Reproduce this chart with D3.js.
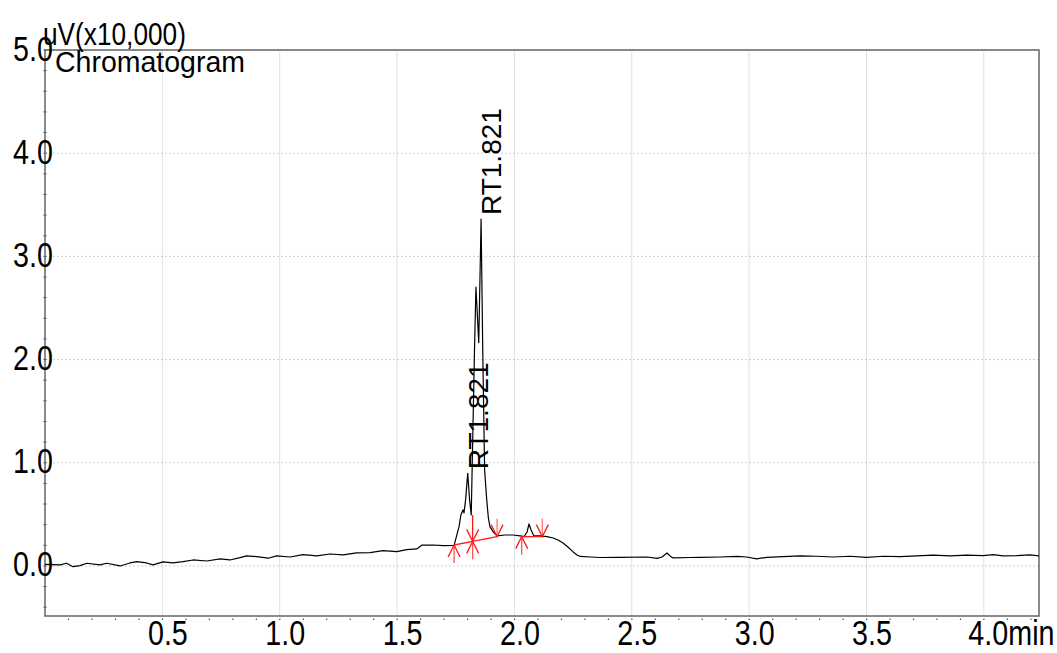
<!DOCTYPE html>
<html lang="en">
<head>
  <meta charset="utf-8">
  <title>Chromatogram</title>
  <script src="https://d3js.org/d3.v7.min.js"></script>
  <style>
    body { margin: 0; background: #fff; }
    text { font-family: "Liberation Sans", Arial, sans-serif; fill: #000; }
  </style>
</head>
<body>
<script>
  // retention time (min) and signal (uV x 10,000)
  var times = [0, 0.064, 0.092, 0.119, 0.149, 0.178, 0.234, 0.263, 0.320, 0.362,
    0.391, 0.433, 0.460, 0.503, 0.545, 0.588, 0.631, 0.689, 0.746, 0.788,
    0.831, 0.859, 0.902, 0.951, 0.987, 1.044, 1.099, 1.158, 1.214, 1.270,
    1.328, 1.385, 1.440, 1.499, 1.541, 1.584, 1.605, 1.654, 1.697, 1.743,
    1.764, 1.772, 1.781, 1.785, 1.792, 1.801, 1.809, 1.816, 1.829, 1.836,
    1.848, 1.858, 1.865, 1.873, 1.882, 1.889, 1.896, 1.910, 1.926, 1.960,
    1.994, 2.024, 2.041, 2.054, 2.062, 2.071, 2.083, 2.109, 2.139, 2.165,
    2.186, 2.207, 2.228, 2.250, 2.267, 2.280, 2.322, 2.365, 2.450, 2.565,
    2.608, 2.629, 2.650, 2.663, 2.676, 2.748, 2.791, 2.876, 2.947, 2.990,
    3.032, 3.075, 3.145, 3.217, 3.288, 3.357, 3.430, 3.501, 3.571, 3.643,
    3.714, 3.784, 3.856, 3.927, 3.997, 4.039, 4.082, 4.140, 4.197, 4.235];
  var signal = [0.016, 0.010, 0.026, -0.007, 0.003, 0.026, 0.010, 0.026, 0.000, 0.029,
    0.042, 0.029, 0.010, 0.039, 0.029, 0.042, 0.058, 0.048, 0.068, 0.058,
    0.080, 0.097, 0.090, 0.075, 0.097, 0.087, 0.109, 0.097, 0.116, 0.107,
    0.126, 0.129, 0.148, 0.139, 0.158, 0.165, 0.201, 0.203, 0.197, 0.199,
    0.381, 0.494, 0.543, 0.514, 0.640, 0.898, 0.640, 0.494, 1.996, 2.703,
    2.164, 3.362, 2.093, 0.930, 0.640, 0.465, 0.378, 0.329, 0.291, 0.300,
    0.300, 0.291, 0.284, 0.329, 0.407, 0.349, 0.291, 0.291, 0.284, 0.271,
    0.252, 0.223, 0.184, 0.136, 0.107, 0.092, 0.087, 0.082, 0.084, 0.087,
    0.073, 0.087, 0.126, 0.097, 0.078, 0.082, 0.084, 0.087, 0.092, 0.087,
    0.068, 0.084, 0.090, 0.097, 0.094, 0.087, 0.094, 0.084, 0.094, 0.090,
    0.097, 0.104, 0.097, 0.104, 0.100, 0.109, 0.097, 0.100, 0.107, 0.097];

  // integration marks: baseline points and drop lines
  var markTimes  = [1.743, 1.822, 1.926, 2.031, 2.119];
  var markValues = [0.203, 0.238, 0.284, 0.284, 0.284];
  var markTypes  = ["start", "split", "end", "start", "end"];
  var dropTops   = [null, 0.494, null, null, null];
  var baselineGroups = [[0, 1, 2], [3, 4]];

  var peakTimes  = [1.801, 1.858];
  var peakValues = [0.898, 3.362];
  var peakLabels = ["RT1.821", "RT1.821"];

  var yTicks = [0, 1, 2, 3, 4, 5];
  var xTicks = [0.5, 1.0, 1.5, 2.0, 2.5, 3.0, 3.5, 4.0];

  var width = 1057, height = 653;
  var plotL = 45, plotR = 1039, plotT = 50, plotB = 616;

  var x = d3.scaleLinear().domain([0, 4.235]).range([plotL, plotR]);
  var y = d3.scaleLinear().domain([-0.485, 5]).range([plotB, plotT]);

  var svg = d3.select("body").append("svg")
              .attr("width", width).attr("height", height);

  // grid
  svg.append("g").selectAll("line").data(xTicks).enter().append("line")
     .attr("x1", d => x(d)).attr("x2", d => x(d))
     .attr("y1", plotT).attr("y2", plotB)
     .attr("stroke", "#e0e0e0").attr("stroke-width", 1);
  svg.append("g").selectAll("line").data(yTicks).enter().append("line")
     .attr("x1", plotL).attr("x2", plotR)
     .attr("y1", d => y(d)).attr("y2", d => y(d))
     .attr("stroke", "#cfcfcf").attr("stroke-width", 1)
     .attr("stroke-dasharray", "2,2");

  // minor ticks
  svg.append("g").selectAll("line").data(d3.range(-4, 51, 2).map(d => d / 10))
     .enter().append("line")
     .attr("x1", plotL - 1.5).attr("x2", plotL + 1.5)
     .attr("y1", d => y(d)).attr("y2", d => y(d))
     .attr("stroke", "#333").attr("stroke-width", 1);
  svg.append("g").selectAll("rect").data(d3.range(1, 43).map(d => d / 10))
     .enter().append("rect")
     .attr("x", d => x(d) - 0.5).attr("y", plotB + 2.5)
     .attr("width", 1.2).attr("height", 1.5).attr("fill", "#555");

  // frame
  svg.append("rect").attr("x", plotL).attr("y", plotT)
     .attr("width", plotR - plotL).attr("height", plotB - plotT)
     .attr("fill", "none").attr("stroke", "#666").attr("stroke-width", 1.5);

  // axes (labels only)
  var yAxis = svg.append("g").attr("transform", "translate(" + plotL + ",0)")
     .call(d3.axisLeft(y).tickValues(yTicks).tickFormat(d3.format(".1f")).tickSize(0));
  yAxis.select(".domain").remove();
  yAxis.selectAll("text")
     .attr("x", 0).attr("y", 10).attr("dy", 0)
     .attr("text-anchor", "end")
     .attr("transform", "translate(8,0) scale(0.82,1)")
     .style("font-size", "35px").style("font-family", "Liberation Sans, Arial, sans-serif")
     .attr("fill", "#000");

  var xAxis = svg.append("g").attr("transform", "translate(0," + plotB + ")")
     .call(d3.axisBottom(x).tickValues(xTicks)
       .tickFormat(d => d == 4 ? "4.0min" : d3.format(".1f")(d)).tickSize(0));
  xAxis.select(".domain").remove();
  xAxis.selectAll("text")
     .attr("x", 0).attr("y", 29).attr("dy", 0)
     .attr("text-anchor", d => d == 4 ? "start" : "middle")
     .attr("transform", d => d == 4 ? "translate(-16,0) scale(0.82,1)" : "translate(5,0) scale(0.82,1)")
     .style("font-size", "35px").style("font-family", "Liberation Sans, Arial, sans-serif")
     .attr("fill", "#000");

  // titles
  svg.append("text").attr("transform", "translate(43,45) scale(0.82,1)")
     .style("font-size", "32px").text("uV(x10,000)");
  svg.append("text").attr("transform", "translate(55,72) scale(0.95,1)")
     .style("font-size", "30px").text("Chromatogram");

  // trace
  var line = d3.line().x(d => x(d[0])).y(d => y(d[1]));
  svg.append("path").datum(d3.zip(times, signal))
     .attr("d", line).attr("fill", "none")
     .attr("stroke", "#000").attr("stroke-width", 1.2)
     .attr("stroke-linejoin", "round");

  // integration baselines and markers
  var red = "#ff1a1a";
  var marks = svg.append("g").attr("stroke", red).attr("stroke-width", 1.3).attr("fill", "none");
  baselineGroups.forEach(function(g) {
    marks.append("path")
      .attr("d", d3.line()(g.map(i => [x(markTimes[i]), y(markValues[i])])));
  });
  markTimes.forEach(function(t, i) {
    var px = x(t), py = y(markValues[i]), type = markTypes[i];
    if (type == "start" || type == "split") {
      marks.append("path").attr("d", "M" + (px - 6) + "," + (py + 12) + "L" + px + "," + py + "L" + (px + 6) + "," + (py + 12));
      marks.append("line").attr("x1", px).attr("x2", px).attr("y1", py).attr("y2", py + 18)
        .attr("stroke-opacity", 0.75);
    }
    if (type == "end" || type == "split") {
      marks.append("path").attr("d", "M" + (px - 6) + "," + (py - 12) + "L" + px + "," + py + "L" + (px + 6) + "," + (py - 12));
      var topY = dropTops[i] != null ? y(dropTops[i]) : py - 18;
      marks.append("line").attr("x1", px).attr("x2", px).attr("y1", topY).attr("y2", py)
        .attr("stroke-opacity", dropTops[i] != null ? 1 : 0.6);
    }
  });

  // peak labels
  svg.append("g").selectAll("text").data(peakTimes).enter().append("text")
     .attr("transform", (d, i) => "translate(" + (x(d) + 20) + "," + (y(peakValues[i]) - 4) + ") rotate(-90)")
     .style("font-size", "28px")
     .text((d, i) => peakLabels[i]);
</script>
</body>
</html>
